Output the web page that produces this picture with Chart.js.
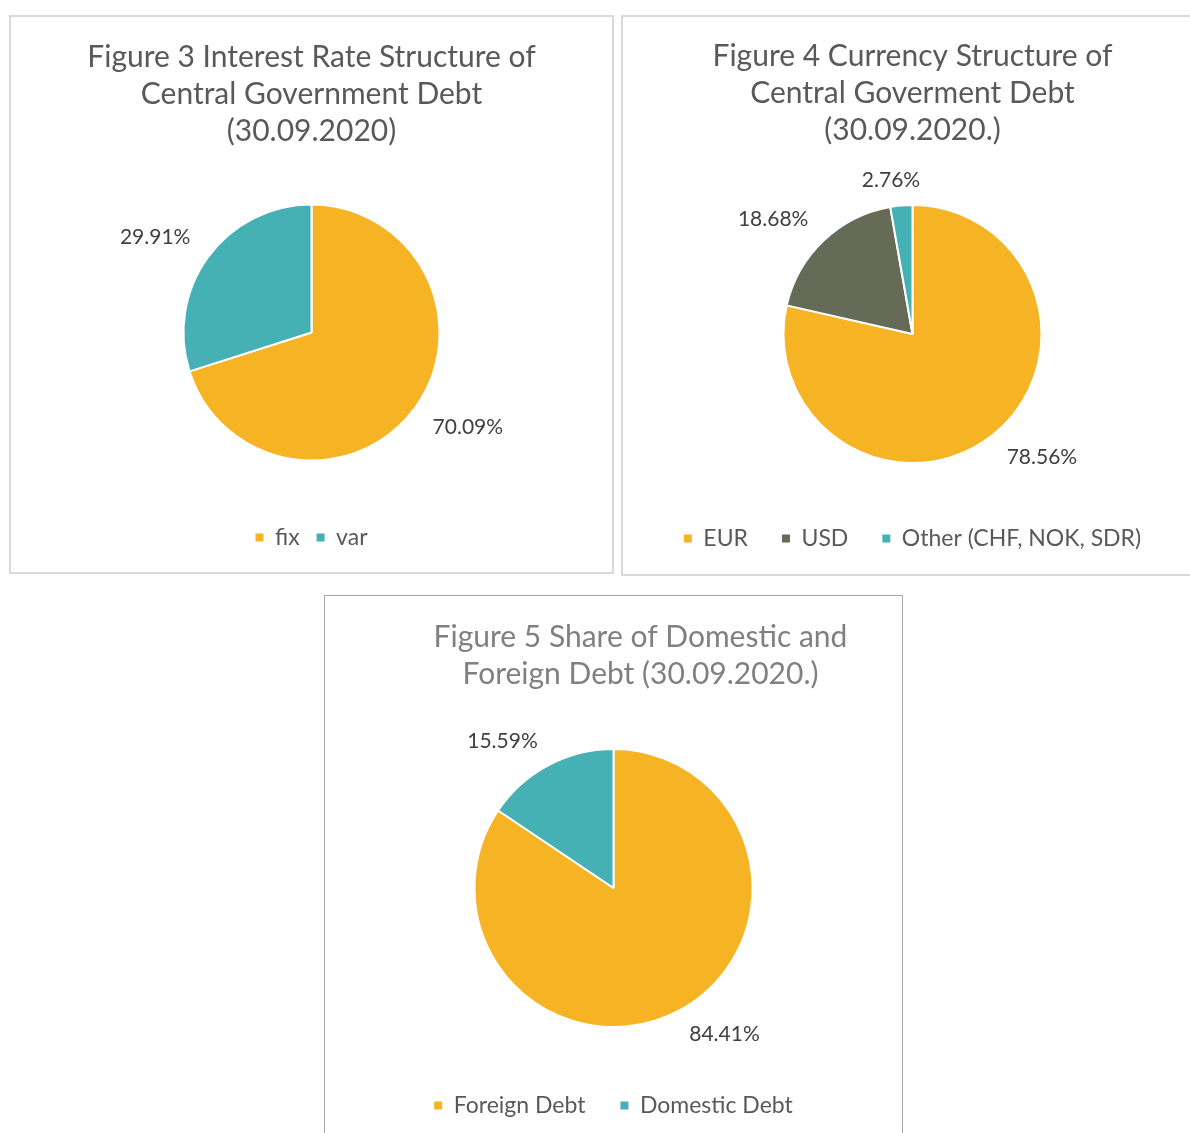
<!DOCTYPE html>
<html>
<head>
<meta charset="utf-8">
<script src="https://cdn.jsdelivr.net/npm/chart.js@4.4.1/dist/chart.umd.min.js"></script>
<style>
    body { margin: 0; background: #fff; width: 1190px; height: 1133px; overflow: hidden; position: relative; }
    .box { position: absolute; background: #fff; box-sizing: border-box; }
    #box3 { left: 9px; top: 15px; width: 605px; height: 559px; border: 2px solid #d9d9d9; }
    #box4 { left: 621px; top: 15px; width: 583px; height: 561px; border: 2px solid #d9d9d9; }
    #box5 { left: 324px; top: 595px; width: 579px; height: 548px; border: 1px solid #a6a6a6; }
    canvas { display: block; }
</style>
</head>
<body>
<div class="box" id="box3"><canvas id="fig3" width="601" height="555"></canvas></div>
<div class="box" id="box4"><canvas id="fig4" width="579" height="557"></canvas></div>
<div class="box" id="box5"><canvas id="fig5" width="577" height="546"></canvas></div>

<script>
// Chart data
const rateLabels = ['fix', 'var'];
const rateShares = [70.09, 29.91];

const currencyLabels = ['EUR', 'USD', 'Other (CHF, NOK, SDR)'];
const currencyShares = [78.56, 18.68, 2.76];

const debtLabels = ['Foreign Debt', 'Domestic Debt'];
const debtShares = [84.41, 15.59];

const ORANGE = '#F6B324';
const TEAL = '#46B1B5';
const OLIVE = '#666B57';
const FONT = 'Lato, "Open Sans", sans-serif';

// Percent labels placed just outside each slice (roughly like Excel's best fit)
const outsideLabels = {
    id: 'outsideLabels',
    afterDatasetsDraw(chart) {
        const ctx = chart.ctx;
        const values = chart.data.datasets[0].data;
        ctx.save();
        ctx.font = '21px ' + FONT;
        ctx.fillStyle = '#404040';
        ctx.textAlign = 'center';
        ctx.textBaseline = 'middle';
        chart.getDatasetMeta(0).data.forEach((arc, i) => {
            const mid = (arc.startAngle + arc.endAngle) / 2;
            const cos = Math.cos(mid), sin = Math.sin(mid);
            const text = values[i].toFixed(2) + '%';
            const w = ctx.measureText(text).width;
            const h = 21;
            const x = arc.x + cos * (arc.outerRadius + 22) + Math.sign(cos) * Math.min(1, Math.abs(cos) / 0.3) * w / 2;
            const y = arc.y + sin * (arc.outerRadius + 15) + Math.sign(sin) * Math.min(1, Math.abs(sin) / 0.3) * h / 2;
            ctx.fillText(text, x, y);
        });
        ctx.restore();
    }
};

// Title drawn off-centre (Figure 5 title sits right of the pie centre)
const shiftedTitle = {
    id: 'shiftedTitle',
    afterDraw(chart, args, opts) {
        if (!opts.lines) return;
        const ctx = chart.ctx;
        ctx.save();
        ctx.font = '30px ' + FONT;
        ctx.fillStyle = opts.color;
        ctx.textAlign = 'center';
        ctx.textBaseline = 'middle';
        opts.lines.forEach((line, i) => {
            ctx.fillText(line, chart.width / 2 + opts.shift, opts.top + 18.5 + i * 37);
        });
        ctx.restore();
    }
};

function makePie(id, labels, values, colors, opts) {
    const ctx = document.getElementById(id).getContext('2d');
    const shifted = opts.titleShift !== undefined;
    const titleSpace = opts.titleTop + opts.title.length * 37 + opts.titleBottom;
    return new Chart(ctx, {
        type: 'pie',
        data: {
            labels: labels,
            datasets: [{
                data: values,
                backgroundColor: colors,
                borderColor: '#ffffff',
                borderWidth: 2,
                radius: opts.radius
            }]
        },
        options: {
            responsive: false,
            animation: false,
            layout: { padding: { top: shifted ? titleSpace : 0, bottom: opts.bottomPad } },
            plugins: {
                title: {
                    display: !shifted,
                    text: opts.title,
                    color: opts.titleColor,
                    font: { family: FONT, size: 30, weight: 'normal', lineHeight: '37px' },
                    padding: { top: opts.titleTop, bottom: opts.titleBottom }
                },
                shiftedTitle: shifted
                    ? { lines: opts.title, color: opts.titleColor, shift: opts.titleShift, top: opts.titleTop }
                    : {},
                legend: {
                    position: 'bottom',
                    labels: {
                        color: '#595959',
                        font: { family: FONT, size: 23 },
                        boxWidth: 8,
                        boxHeight: 8,
                        padding: opts.legendGap,
                        generateLabels: chart => Chart.overrides.pie.plugins.legend.labels
                            .generateLabels(chart)
                            .map(item => ({ ...item, lineWidth: 0 }))
                    }
                },
                tooltip: { enabled: false }
            }
        },
        plugins: [outsideLabels, shiftedTitle]
    });
}

document.addEventListener('DOMContentLoaded', () => {
    makePie('fig3', rateLabels, rateShares, [ORANGE, TEAL], {
        radius: 128,
        title: ['Figure 3 Interest Rate Structure of', 'Central Government Debt', '(30.09.2020)'],
        titleColor: '#595959', titleTop: 22, titleBottom: 6,
        legendGap: 17, bottomPad: 13
    });
    makePie('fig4', currencyLabels, currencyShares, [ORANGE, OLIVE, TEAL], {
        radius: 129,
        title: ['Figure 4 Currency Structure of', 'Central Goverment Debt', '(30.09.2020.)'],
        titleColor: '#595959', titleTop: 21, titleBottom: 26,
        legendGap: 34, bottomPad: 14
    });
    makePie('fig5', debtLabels, debtShares, [ORANGE, TEAL], {
        radius: 139,
        title: ['Figure 5 Share of Domestic and', 'Foreign Debt (30.09.2020.)'],
        titleColor: '#808080', titleTop: 23, titleBottom: 24, titleShift: 27,
        legendGap: 35, bottomPad: 15
    });
});
</script>
</body>
</html>
